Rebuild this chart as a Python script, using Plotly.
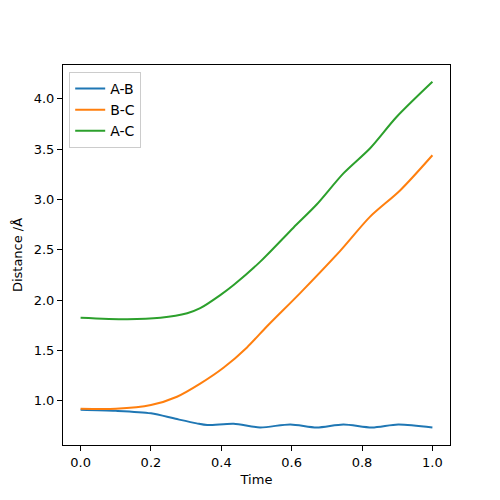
import plotly.graph_objects as go

# distances, each series on its own time samples
t_ab = [0.0, 0.1, 0.2, 0.27, 0.33, 0.36, 0.435, 0.51, 0.596, 0.671, 0.747, 0.828, 0.903, 1.0]
d_ab = [0.91, 0.90, 0.875, 0.82, 0.775, 0.758, 0.772, 0.735, 0.765, 0.735, 0.765, 0.735, 0.765, 0.735]

t_bc = [0.0, 0.1, 0.2, 0.274, 0.34, 0.407, 0.473, 0.53, 0.624, 0.738, 0.823, 0.908, 1.0]
d_bc = [0.92, 0.92, 0.957, 1.04, 1.17, 1.33, 1.53, 1.74, 2.07, 2.49, 2.83, 3.09, 3.44]

t_ac = [0.0, 0.133, 0.227, 0.303, 0.34, 0.397, 0.435, 0.51, 0.605, 0.671, 0.747, 0.823, 0.898, 1.0]
d_ac = [1.825, 1.81, 1.825, 1.87, 1.92, 2.05, 2.15, 2.38, 2.72, 2.95, 3.26, 3.51, 3.82, 4.17]

x_ticks = [0.0, 0.2, 0.4, 0.6, 0.8, 1.0]
y_ticks = [1.0, 1.5, 2.0, 2.5, 3.0, 3.5, 4.0]

series = [("A-B", t_ab, d_ab, "#1f77b4"),
          ("B-C", t_bc, d_bc, "#ff7f0e"),
          ("A-C", t_ac, d_ac, "#2ca02c")]

fig = go.Figure()
for name, t, d, col in series:
    fig.add_trace(go.Scatter(x=t, y=d, name=name, mode="lines",
                             line=dict(color=col, width=2, shape="spline", smoothing=0.8)))

axis_style = dict(showgrid=False, zeroline=False, showline=True, linecolor="black",
                  linewidth=1, mirror=True, ticks="outside", ticklen=5,
                  tickcolor="black", tickfont=dict(size=13, color="black"),
                  automargin=False)

# page body adds ~8px offset, so margins are trimmed to land the axes where the reference has them
fig.update_layout(
    width=500, height=500,
    margin=dict(l=55, r=58, t=57, b=63),
    plot_bgcolor="white", paper_bgcolor="white",
    font=dict(family="DejaVu Sans", size=13, color="black"),
    showlegend=True,
    legend=dict(x=0.016, y=0.982, xanchor="left", yanchor="top",
                bgcolor="rgba(255,255,255,0.8)", bordercolor="#cccccc", borderwidth=1,
                font=dict(size=14), tracegroupgap=0, itemwidth=30),
    xaxis=dict(range=[-0.05, 1.05], tickvals=x_ticks,
               ticktext=[f"{v:.1f}" for v in x_ticks],
               title=dict(text="Time", standoff=6, font=dict(size=13)), **axis_style),
    yaxis=dict(range=[0.56, 4.337], tickvals=y_ticks,
               ticktext=[f"{v:.1f}" for v in y_ticks],
               title=dict(text="Distance /Å", standoff=8, font=dict(size=13)), **axis_style),
)

fig.write_html("out.html")
